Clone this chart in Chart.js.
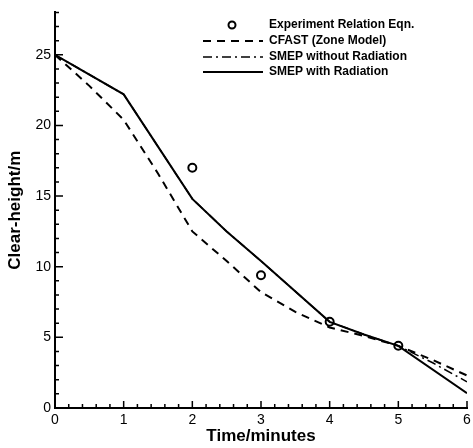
<!DOCTYPE html>
<html>
<head>
<meta charset="utf-8">
<script src="https://cdn.jsdelivr.net/npm/chart.js@4"></script>
<style>
  html, body { margin: 0; padding: 0; background: #fff; }
  #wrap { width: 473px; height: 448px; }
</style>
</head>
<body>
<div id="wrap"><canvas id="myChart" width="473" height="448"></canvas></div>
<script>
// data
var expTime = [2, 3, 4, 5];
var expHeight = [17.0, 9.4, 6.1, 4.4];

var cfastTime = [0, 0.5, 1, 1.5, 2, 2.5, 3, 3.5, 4, 4.5, 5, 5.5, 6];
var cfastHeight = [25, 22.8, 20.4, 16.6, 12.5, 10.4, 8.2, 6.8, 5.7, 5.1, 4.4, 3.4, 2.3];

var noRadTime = [0, 1, 2, 2.5, 3, 4, 4.5, 5, 5.5, 6];
var noRadHeight = [25, 22.2, 14.8, 12.5, 10.4, 6.1, 5.2, 4.4, 3.2, 1.85];

var radTime = [0, 1, 2, 2.5, 3, 4, 4.5, 5, 6];
var radHeight = [25, 22.2, 14.8, 12.5, 10.4, 6.1, 5.2, 4.4, 1.05];

var xTicks = [0, 1, 2, 3, 4, 5, 6];
var yTicks = [0, 5, 10, 15, 20, 25];

function pts(xs, ys) {
    return xs.map(function (x, i) { return { x: x, y: ys[i] }; });
}

// inward tick marks, like the original plot
var inwardTicks = {
    id: 'inwardTicks',
    afterDraw: function (chart) {
        var ctx = chart.ctx;
        var xs = chart.scales.x, ys = chart.scales.y;
        var left = chart.chartArea.left, bottom = chart.chartArea.bottom;
        ctx.save();
        ctx.strokeStyle = '#000';
        ctx.lineWidth = 1.5;
        ctx.beginPath();
        for (var i = 0; i <= 30; i++) {
            var v = i * 0.2;
            var px = xs.getPixelForValue(v);
            var len = (i % 5 === 0) ? 7 : 4;
            ctx.moveTo(px, bottom);
            ctx.lineTo(px, bottom - len);
        }
        for (var j = 0; j <= 28; j++) {
            var py = ys.getPixelForValue(j);
            var l = (j % 5 === 0) ? 8 : 4;
            ctx.moveTo(left, py);
            ctx.lineTo(left + l, py);
        }
        ctx.stroke();
        ctx.restore();
    }
};

// legend box drawn in the upper right of the plot
var boxLegend = {
    id: 'boxLegend',
    afterDraw: function (chart) {
        var ctx = chart.ctx;
        var x0 = 203, x1 = 263, tx = 269;
        var rows = [25, 41, 57, 72];
        ctx.save();
        ctx.strokeStyle = '#000';
        ctx.fillStyle = '#000';
        ctx.font = 'bold 12px "Liberation Sans", Arial, sans-serif';
        ctx.textBaseline = 'middle';
        chart.data.datasets.forEach(function (ds, i) {
            var y = rows[i];
            ctx.beginPath();
            if (ds.showLine === false) {
                ctx.setLineDash([]);
                ctx.lineWidth = 2;
                ctx.arc(232, y, 3.5, 0, Math.PI * 2);
            } else {
                ctx.setLineDash(ds.borderDash || []);
                ctx.lineWidth = ds.borderWidth;
                ctx.moveTo(x0, y);
                ctx.lineTo(x1, y);
            }
            ctx.stroke();
            ctx.setLineDash([]);
            ctx.fillText(ds.label, tx, y);
        });
        ctx.restore();
    }
};

new Chart('myChart', {
    type: 'scatter',
    data: {
        datasets: [{
            label: 'Experiment Relation Eqn.',
            data: pts(expTime, expHeight),
            showLine: false,
            pointStyle: 'circle',
            pointRadius: 4,
            pointBorderWidth: 2,
            pointBorderColor: '#000',
            pointBackgroundColor: 'rgba(255,255,255,0)'
        }, {
            label: 'CFAST (Zone Model)',
            data: pts(cfastTime, cfastHeight),
            showLine: true,
            borderColor: '#000',
            borderWidth: 2,
            borderDash: [8, 6],
            pointRadius: 0
        }, {
            label: 'SMEP without Radiation',
            data: pts(noRadTime, noRadHeight),
            showLine: true,
            borderColor: '#000',
            borderWidth: 1.5,
            borderDash: [9, 4, 2, 4],
            pointRadius: 0
        }, {
            label: 'SMEP with Radiation',
            data: pts(radTime, radHeight),
            showLine: true,
            borderColor: '#000',
            borderWidth: 2,
            pointRadius: 0
        }]
    },
    options: {
        responsive: false,
        animation: false,
        layout: { padding: { top: 9, right: 5, left: 0, bottom: 0 } },
        plugins: {
            legend: { display: false },
            tooltip: { enabled: false }
        },
        scales: {
            x: {
                type: 'linear',
                min: 0,
                max: 6,
                afterFit: function (s) { s.height = 40; s.paddingRight = 0; s.paddingLeft = 0; },
                afterBuildTicks: function (s) { s.ticks = xTicks.map(function (v) { return { value: v }; }); },
                grid: { display: false, drawTicks: false },
                border: { display: true, color: '#000', width: 2 },
                ticks: {
                    color: '#000',
                    padding: 4,
                    maxRotation: 0,
                    font: { family: '"Liberation Sans", Arial, sans-serif', size: 14 }
                },
                title: {
                    display: true,
                    text: 'Time/minutes',
                    color: '#000',
                    padding: { top: 0, bottom: 1 },
                    font: { family: '"Liberation Sans", Arial, sans-serif', size: 17, weight: 'bold' }
                }
            },
            y: {
                type: 'linear',
                min: 0,
                max: 28,
                afterFit: function (s) { s.width = 55; },
                afterBuildTicks: function (s) { s.ticks = yTicks.map(function (v) { return { value: v }; }); },
                grid: { display: false, drawTicks: false },
                border: { display: true, color: '#000', width: 2 },
                ticks: {
                    color: '#000',
                    padding: 4,
                    font: { family: '"Liberation Sans", Arial, sans-serif', size: 14 }
                },
                title: {
                    display: true,
                    text: 'Clear-height/m',
                    color: '#000',
                    padding: { top: 5, bottom: 0 },
                    font: { family: '"Liberation Sans", Arial, sans-serif', size: 17, weight: 'bold' }
                }
            }
        }
    },
    plugins: [inwardTicks, boxLegend]
});
</script>
</body>
</html>
